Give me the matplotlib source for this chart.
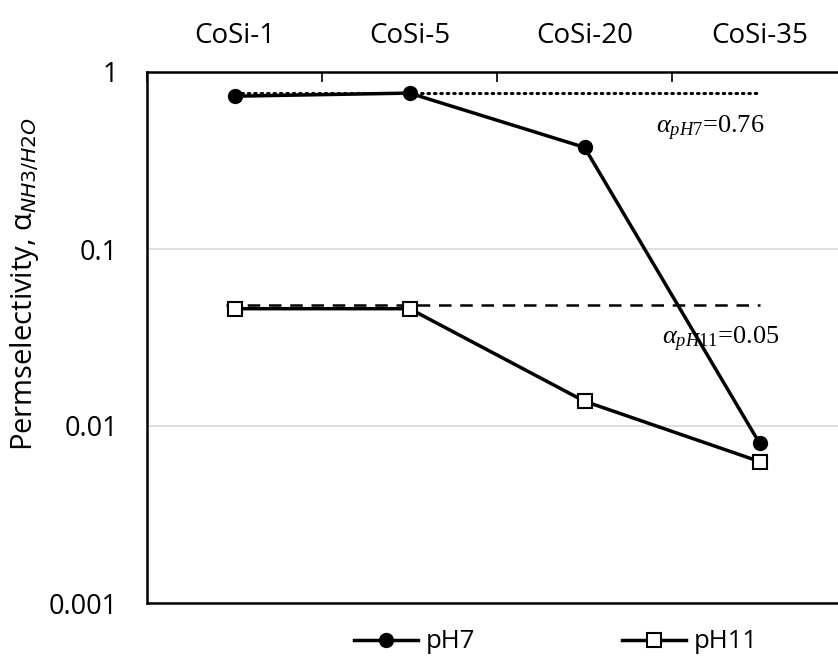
import matplotlib.pyplot as plt
import numpy as np

# data
samples = ["CoSi-1", "CoSi-5", "CoSi-20", "CoSi-35"]
ph7 = [0.73, 0.76, 0.375, 0.0080]
ph11 = [0.046, 0.046, 0.0138, 0.0063]
alpha_ph7 = 0.76
alpha_ph11 = 0.048
y_ticks = [0.001, 0.01, 0.1, 1]
y_labels = ["0.001", "0.01", "0.1", "1"]

plt.rcParams["font.family"] = ["Open Sans", "DejaVu Sans"]
plt.rcParams["mathtext.fontset"] = "custom"
plt.rcParams["mathtext.rm"] = "Liberation Serif"
plt.rcParams["mathtext.it"] = "Liberation Serif:italic"

fig = plt.figure(figsize=(8.38, 6.59), dpi=100)
# plot area runs slightly past the right edge of the picture
ax = fig.add_axes([147 / 838, (659 - 603) / 659, 700 / 838, 531 / 659])

x = np.arange(len(samples))
ax.set_yscale("log")
ax.set_ylim(0.001, 1)
ax.set_xlim(-0.5, len(samples) - 0.5)

# reference levels
ax.plot([x[0], x[-1]], [alpha_ph7, alpha_ph7], color="black", lw=2.2,
        linestyle=(0, (0.5, 1.6)), dash_capstyle="round", zorder=2)
ax.plot([x[0] - 0.05, x[-1]], [alpha_ph11, alpha_ph11], color="black", lw=1.8,
        linestyle=(0, (5, 3.5)), zorder=2)

ax.plot(x, ph7, color="black", lw=2.5, marker="o", markersize=10,
        markerfacecolor="black", label="pH7", zorder=3)
ax.plot(x, ph11, color="black", lw=2.5, marker="s", markersize=10,
        markerfacecolor="white", markeredgewidth=1.5, label="pH11", zorder=3)

ax.text(2.72, 0.48, r"$\alpha_{pH7}$=0.76", fontsize=19,
        family="Liberation Serif", ha="center", va="center")
ax.text(2.78, 0.031, r"$\alpha_{pH11}$=0.05", fontsize=19,
        family="Liberation Serif", ha="center", va="center")

# category axis along the top (crosses at 1)
ax.xaxis.tick_top()
ax.set_xticks(x)
ax.set_xticklabels(samples, fontsize=20)
ax.set_xticks(np.arange(-0.5, len(samples) - 0.4, 1), minor=True)
ax.tick_params(axis="x", which="major", length=0, pad=16)
ax.tick_params(axis="x", which="minor", direction="in", length=7, width=1.2, top=True)

ax.set_yticks(y_ticks)
ax.set_yticklabels(y_labels, fontsize=19.5)
ax.yaxis.set_minor_locator(plt.NullLocator())
ax.tick_params(axis="y", length=0, pad=21)
ax.grid(axis="y", color="#d9d9d9", lw=1.2, zorder=0)

for side in ["top", "bottom", "left"]:
    ax.spines[side].set_linewidth(1.8)
ax.spines["right"].set_visible(False)

ax.set_ylabel(r"Permselectivity, α$_{\mathit{NH3/H2O}}$", fontsize=21,
              math_fontfamily="dejavusans")
ax.yaxis.set_label_coords(-0.152, 0.60)

fig.legend(loc="center", bbox_to_anchor=(0.663, 17 / 659),
           ncol=2, frameon=False, fontsize=18.5, handlelength=2.5,
           columnspacing=5.7, handletextpad=0.3)

fig.savefig("out.png", dpi=100)
